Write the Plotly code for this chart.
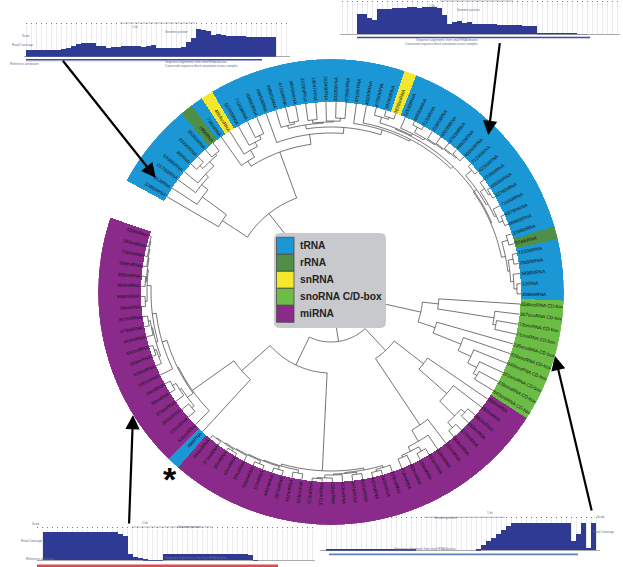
import math
import plotly.graph_objects as go

W, H = 623, 567
CX, CY, R_OUT, R_IN = 331, 292, 233, 190
START, SWEEP = -61.4, 350.0

CATEGORIES = ["tRNA", "rRNA", "snRNA", "snoRNA C/D-box", "miRNA"]
CAT_COLORS = ["#1b97d5", "#4f8f46", "#f5e72b", "#6cbd45", "#8a2a8a"]

# contiguous runs of the ring, clockwise
SEG_CATS = ["tRNA", "rRNA", "tRNA", "snRNA", "tRNA", "snRNA", "tRNA", "rRNA", "tRNA",
            "snoRNA C/D-box", "miRNA", "tRNA", "miRNA"]
SEG_COUNTS = [7, 1, 1, 1, 16, 1, 17, 1, 5, 10, 32, 1, 21]

LEAF_LABELS = [
    "32860tRNA", "613tRNA", "01790tRNA", "03360tRNA", "86tRNA", "19190tRNA", "35360tRNA", "190rRNA",
    "7380tRNA", "4864snRNA", "52290tRNA", "71340tRNA", "40690tRNA", "48950tRNA", "48960tRNA", "47190tRNA",
    "48090tRNA", "32280tRNA", "14047tRNA", "26240tRNA", "33320tRNA", "47890tRNA", "47190tRNA", "40330tRNA",
    "47350tRNA", "38290tRNA", "3828snRNA", "32530tRNA", "46590tRNA", "7130tRNA", "21880tRNA", "40330tRNA",
    "47030tRNA", "48820tRNA", "40060tRNA", "71340tRNA", "42300tRNA", "72390tRNA", "46690tRNA", "32780tRNA",
    "71460tRNA", "48790tRNA", "46980tRNA", "32880tRNA", "5744rRNA", "72300tRNA", "70890tRNA", "38980tRNA",
    "12tRNA", "40890tRNA",
    "658snoRNA CD-box", "307snoRNA CD-box", "72snoRNA CD-box", "71snoRNA CD-box", "235snoRNA CD-box",
    "628snoRNA CD-box", "640snoRNA CD-box", "101snoRNA CD-box", "138snoRNA CD-box", "643snoRNA CD-box",
    "358miRNA", "850miRNA", "882miRNA", "150miRNA", "275miRNA", "506miRNA", "207miRNA", "218miRNA",
    "633miRNA", "196miRNA", "464miRNA", "718miRNA", "676miRNA", "343miRNA", "410miRNA", "524miRNA",
    "167miRNA", "413miRNA", "192miRNA", "372miRNA", "417miRNA", "123miRNA", "412miRNA", "387miRNA",
    "440miRNA", "57miRNA", "508miRNA", "50miRNA", "60miRNA", "26miRNA", "373miRNA", "544miRNA",
    "498tRNA", "536miRNA", "170miRNA", "344miRNA", "373miRNA", "55miRNA", "26miRNA", "196miRNA",
    "633miRNA", "263miRNA", "692miRNA", "443miRNA", "473miRNA", "847miRNA", "99miRNA", "848miRNA",
    "494miRNA", "606miRNA", "209miRNA", "718miRNA", "393miRNA", "429miRNA",
]

# Dendrogram: (merge radius, child, child); L is a tip
L = None
A_ = (130, L, (160, L, (168, L, (172, L, (178, (182, L, L), (180, L, L))))))
LEFTUP = (169, (172, L, (174, L, L)), (170, (173, L, L), (171, L, (174, L, L))))
X_ = (176, (182, L, (184, L, L)), (178, L, (180, (186, L, L), (181, L, (182, L, (183, L, (184, L, L)))))))
Y_ = (174, (178, (186, L, L), (180, (185, L, (187, L, L)), (182, L, (186, L, L)))),
      (178, (184, L, L), (180, (185, L, L), (183, L, (186, L, L)))))
RIGHTUP = (170, L, (172, L, (175, X_, Y_)))
B_ = (149, (155, L, (163, L, (168, L, (172, L, L)))), (159, L, (165, LEFTUP, RIGHTUP)))
TOP = (100, A_, B_)
SNO = (92, (108, L, (165, L, (168, L, L))), (110, L, (140, L, (154, L, (164, L, (168, L, L))))))
A2 = (117, L, (154, L, (175, (180, L, L), (182, L, L))))
B2 = (160, L, (173, L, (178, (183, L, L), (180, L, L))))
LOW = (80, A2, B2)
P_ = (181, (183, L, (185, L, L)), (182, (184, L, L), (183, L, (186, L, (187, L, L)))))
Q_ = (181, (184, L, L), (182, (185, L, L), (183, (186, L, L), (184, L, (185, (187, L, L), (186, L, L))))))
MID = (179, P_, Q_)
a_ = (178, (181, L, L), (180, L, (184, L, L)))
c1_ = (182, (184, L, (186, L, L)), (183, L, (185, L, L)))
c2_ = (184, (186, L, L), (185, (186, L, L), (186, L, (187, L, (188, L, L)))))
b_ = (176, L, (180, c1_, c2_))
LEFT = (119, L, (170, L, (171, a_, b_)))
TREE = (10, TOP, (30, SNO, (50, LOW, (81, MID, LEFT))))

# Coverage tracks (bin heights, one series per inset)
COV_TOPLEFT = [20, 21, 21, 21, 21, 21, 20, 23, 27, 31, 38, 40, 41, 41, 33, 32, 27, 29, 29, 31, 31, 32, 32, 29, 33,
               34, 27, 27, 25, 25, 25, 30, 45, 55, 83, 81, 77, 66, 69, 64, 62, 62, 61, 61, 60, 59, 58, 58, 58, 58]
COV_TOPRIGHT = [60, 62, 50, 42, 75, 76, 77, 78, 79, 80, 81, 81, 80, 83, 83, 81, 80, 58, 32, 36, 40, 34, 36, 30, 30,
                30, 31, 30, 28, 28, 28, 27, 27, 26, 26, 25, 3, 4, 5, 2, 1, 1, 1, 1, 0.5, 0.5]
COV_BOTLEFT = [85, 85, 85, 85, 85, 85, 85, 85, 85, 85, 85, 85, 85, 85, 84, 80, 73, 20, 9, 6, 3, 1, 1, 1,
               20, 20, 20, 20, 20, 20, 20, 20, 20, 20, 20, 20, 20, 20, 20, 18, 19, 15, 1]
COV_BOTRIGHT = [3, 5, 5, 5, 5, 5, 5, 5, 5, 5, 5, 5, 5, 5, 5, 5, 3, 2, 0, 0, 0, 0, 0, 0, 0, 0, 0, 0, 0, 0,
                5, 15, 27, 38, 50, 60, 72, 82, 82, 82, 82, 82, 82, 82, 82, 82, 82, 82, 82, 28, 50, 82, 8, 82]


def px_x(x):
    return x / W


def px_y(y):
    return 1 - y / H


STEP = SWEEP / sum(SEG_COUNTS)
leaf_theta = [START + STEP * (i + 0.5) for i in range(sum(SEG_COUNTS))]

fig = go.Figure()

# ring
start_leaf = 0
by_cat = {c: ([], []) for c in CATEGORIES}
for cat, n in zip(SEG_CATS, SEG_COUNTS):
    by_cat[cat][0].append(START + STEP * (start_leaf + n / 2))
    by_cat[cat][1].append(STEP * n)
    start_leaf += n
for cat, col in zip(CATEGORIES, CAT_COLORS):
    th, wd = by_cat[cat]
    fig.add_trace(go.Barpolar(theta=th, width=wd, base=[R_IN] * len(th), r=[R_OUT - R_IN] * len(th),
                              marker=dict(color=col, line=dict(width=0)), name=cat,
                              showlegend=False, hoverinfo="skip"))

# dendrogram
tr, tt = [], []
counter = [0]


def walk(node):
    if node is None:
        i = counter[0]
        counter[0] += 1
        return leaf_theta[i], R_IN
    r = node[0]
    kids = [walk(k) for k in node[1:]]
    for a, kr in kids:
        tr.extend([r, kr, None])
        tt.extend([a, a, None])
    a0, a1 = kids[0][0], kids[-1][0]
    n = max(2, int(abs(a1 - a0) / 1.5) + 2)
    for k in range(n):
        tr.append(r)
        tt.append(a0 + (a1 - a0) * k / (n - 1))
    tr.append(None)
    tt.append(None)
    return (a0 + a1) / 2, r


walk(TREE)
assert counter[0] == len(leaf_theta) == len(LEAF_LABELS)
fig.add_trace(go.Scatterpolar(r=tr, theta=tt, mode="lines", line=dict(color="#3a3a3a", width=0.7),
                              showlegend=False, hoverinfo="skip", connectgaps=False))

annotations = []
# tip labels, radial, starting just outside the inner edge of the ring
for lab, th in zip(LEAF_LABELS, leaf_theta):
    t = th % 360
    ang = t - 90 if t <= 180 else t - 270
    rc = R_IN + 2 + len(lab) * 2.5 / 2
    rad = math.radians(t)
    x = CX + rc * math.sin(rad)
    y = CY - rc * math.cos(rad)
    annotations.append(dict(x=px_x(x), y=px_y(y), xref="paper", yref="paper", text=lab, textangle=ang,
                            showarrow=False, xanchor="center", yanchor="middle",
                            font=dict(size=4.7, color="#111", family="Liberation Sans")))

# coverage insets: (series, first-bin px, top px, base px, grid left px, grid right px)
INSETS = [
    (COV_TOPLEFT, 26, 25, 56.7, 24, 290),
    (COV_TOPRIGHT, 357.3, 3, 34.3, 340, 620),
    (COV_BOTLEFT, 42.7, 529.3, 560.7, 37, 315),
    (COV_BOTRIGHT, 326, 519.3, 550.7, 320, 600),
]
layout_axes = {}
for k, (vals, x0, top, base, gl, gr) in enumerate(INSETS, start=2):
    fig.add_trace(go.Bar(x=[i + 0.5 for i in range(len(vals))], y=vals, width=1.0,
                         marker=dict(color="#2f3a94", line=dict(width=0)), xaxis=f"x{k}", yaxis=f"y{k}",
                         showlegend=False, hoverinfo="skip"))
    layout_axes[f"xaxis{k}"] = dict(domain=[px_x(gl), px_x(gr)], range=[(gl - x0) / 5, (gr - x0) / 5],
                                    anchor=f"y{k}", side="top", showgrid=True, gridcolor="#e9e9ee", gridwidth=0.6,
                                    dtick=1, tick0=0, ticks="outside", ticklen=1.5, tickwidth=0.6, tickcolor="#777",
                                    showticklabels=False, zeroline=False, showline=False)
    layout_axes[f"yaxis{k}"] = dict(domain=[px_y(base), px_y(top)], range=[0, (base - top) * 3], anchor=f"x{k}",
                                    showgrid=False, showticklabels=False, ticks="", zeroline=True,
                                    zerolinecolor="#aaaaaa", zerolinewidth=0.6, showline=False)

shapes = []


def line(x0, y0, x1, y1, color, width):
    shapes.append(dict(type="line", xref="paper", yref="paper", x0=px_x(x0), x1=px_x(x1), y0=px_y(y0), y1=px_y(y1),
                       line=dict(color=color, width=width)))


# annotation strips under and above the tracks
line(26, 59.7, 262, 59.7, "#3f4aa3", 1.4)
line(26, 60.9, 213, 60.9, "#9aa0cc", 0.6)
line(120, 23, 195, 23, "#888888", 0.6)
line(357, 37.5, 590, 37.5, "#3f4aa3", 1.6)
line(440, 1, 513, 1, "#888888", 0.6)
line(37, 565.8, 278, 565.8, "#e0484f", 2.4)
line(132, 527, 212, 527, "#888888", 0.6)
line(329, 554.3, 578, 554.3, "#5f80b8", 1.8)
line(424, 517.3, 505, 517.3, "#888888", 0.6)

TINY = [
    ("Read Coverage", 10, 40.7), ("Read Coverage", 19, 545), ("Read Coverage", 616, 535.7),
    ("Scale", 20, 32), ("Scale", 30, 528), ("Scale", 607, 521),
    ("1 kb", 130, 23), ("1 kb", 437, 1.5), ("1 kb", 140, 527), ("1 kb", 495, 517),
    ("Genome position", 163, 27.5), ("Genome position", 482, 5.5), ("Genome position", 176, 531),
    ("Genome position", 459, 522),
    ("Sequence alignments from small RNA libraries", 163, 58), ("Sequence alignments from small RNA libraries", 480, 35.5),
    ("Sequence alignments from small RNA libraries", 163, 562.3), ("Sequence alignments from small RNA libraries", 458, 552.5),
    ("Conserved sequence block annotation across samples", 163, 62), ("Conserved sequence block annotation across samples", 480, 39.5),
    ("Reference annotation", 8, 59.7), ("Reference annotation", 24, 562.5),
]
for txt, x, y in TINY:
    annotations.append(dict(x=px_x(x), y=px_y(y), xref="paper", yref="paper", text=txt, showarrow=False,
                            font=dict(size=3, color="#66708f", family="Liberation Sans")))

# legend panel
shapes.append(dict(type="path", xref="paper", yref="paper", layer="above", line=dict(width=0), fillcolor="#c8c9cc",
                   path=" ".join([
                       f"M {px_x(280)} {px_y(233)}", f"L {px_x(380)} {px_y(233)}",
                       f"Q {px_x(386)} {px_y(233)} {px_x(386)} {px_y(239)}",
                       f"L {px_x(386)} {px_y(322)}", f"Q {px_x(386)} {px_y(328)} {px_x(380)} {px_y(328)}",
                       f"L {px_x(280)} {px_y(328)}", f"Q {px_x(274)} {px_y(328)} {px_x(274)} {px_y(322)}",
                       f"L {px_x(274)} {px_y(239)}", f"Q {px_x(274)} {px_y(233)} {px_x(280)} {px_y(233)}", "Z"])))
for i, (cat, col) in enumerate(zip(CATEGORIES, CAT_COLORS)):
    y0 = 237.3 + 17 * i
    shapes.append(dict(type="rect", xref="paper", yref="paper", layer="above",
                       x0=px_x(276.5), x1=px_x(294), y0=px_y(y0), y1=px_y(y0 + 17),
                       fillcolor=col, line=dict(color="#4a4a4a", width=0.8)))
    annotations.append(dict(x=px_x(298), y=px_y(y0 + 8), xref="paper", yref="paper", text=f"<b>{cat}</b>",
                            showarrow=False, xanchor="left", yanchor="middle",
                            font=dict(size=10.2, color="#222", family="Liberation Sans")))

# call-out arrows: (tail x, tail y, tip x, tip y)
ARROWS = [(61.7, 59.3, 155.7, 177.7), (500, 41.7, 488.3, 135), (592, 512, 555, 356), (129, 525, 133, 415)]
for xa, ya, xt, yt in ARROWS:
    annotations.append(dict(x=px_x(xt), y=px_y(yt), ax=xa - xt, ay=ya - yt, xref="paper", yref="paper",
                            text="", showarrow=True, arrowhead=2, arrowsize=1.3,
                            arrowwidth=2.2, arrowcolor="#000000"))
annotations.append(dict(x=px_x(161), y=px_y(500), xref="paper", yref="paper", text="<b>*</b>", showarrow=False,
                        font=dict(size=34, color="#000", family="Liberation Sans")))

fig.update_layout(
    width=W, height=H, margin=dict(l=0, r=0, t=0, b=0), paper_bgcolor="white", plot_bgcolor="rgba(0,0,0,0)",
    bargap=0, showlegend=False, shapes=shapes, annotations=annotations,
    polar=dict(domain=dict(x=[px_x(CX - R_OUT), px_x(CX + R_OUT)], y=[px_y(CY + R_OUT), px_y(CY - R_OUT)]),
               bgcolor="rgba(0,0,0,0)",
               angularaxis=dict(visible=False, rotation=90, direction="clockwise"),
               radialaxis=dict(visible=False, range=[0, R_OUT])),
    **layout_axes,
)
fig.write_html("out.html", config=dict(displayModeBar=False),
               post_script="document.body.style.margin='0';document.body.style.overflow='hidden';")
